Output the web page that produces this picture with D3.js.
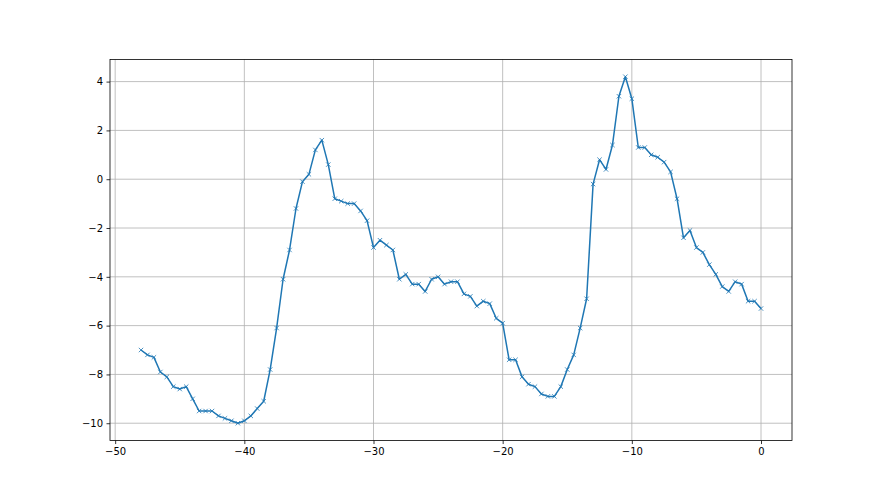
<!DOCTYPE html>
<html>
<head>
<meta charset="utf-8">
<script src="https://cdn.jsdelivr.net/npm/d3@7"></script>
<style>
  body { margin: 0; background: #fff; }
  .tick text { font-family: "DejaVu Sans", sans-serif; font-size: 10px; fill: #000; }
</style>
</head>
<body>
<div id="chart-area"></div>
<script>
const W = 880;
const H = 495;
const MARGIN = { LEFT: 110, RIGHT: 88, TOP: 59.4, BOTTOM: 54.45 };
const WIDTH = W - MARGIN.LEFT - MARGIN.RIGHT;
const HEIGHT = H - MARGIN.TOP - MARGIN.BOTTOM;

// data
const xValues = [
  -48, -47.5, -47, -46.5, -46, -45.5, -45, -44.5, -44, -43.5,
  -43, -42.5, -42, -41.5, -41, -40.5, -40, -39.5, -39, -38.5,
  -38, -37.5, -37, -36.5, -36, -35.5, -35, -34.5, -34, -33.5,
  -33, -32.5, -32, -31.5, -31, -30.5, -30, -29.5, -29, -28.5,
  -28, -27.5, -27, -26.5, -26, -25.5, -25, -24.5, -24, -23.5,
  -23, -22.5, -22, -21.5, -21, -20.5, -20, -19.5, -19, -18.5,
  -18, -17.5, -17, -16.5, -16, -15.5, -15, -14.5, -14, -13.5,
  -13, -12.5, -12, -11.5, -11, -10.5, -10, -9.5, -9, -8.5,
  -8, -7.5, -7, -6.5, -6, -5.5, -5, -4.5, -4, -3.5,
  -3, -2.5, -2, -1.5, -1, -0.5, 0
];
const yValues = [
  -7.0, -7.2, -7.3, -7.9, -8.1, -8.5, -8.6, -8.5, -9.0, -9.5,
  -9.5, -9.5, -9.7, -9.8, -9.9, -10.0, -9.9, -9.7, -9.4, -9.1,
  -7.8, -6.1, -4.1, -2.9, -1.2, -0.1, 0.2, 1.2, 1.6, 0.6,
  -0.8, -0.9, -1.0, -1.0, -1.3, -1.7, -2.8, -2.5, -2.7, -2.9,
  -4.1, -3.9, -4.3, -4.3, -4.6, -4.1, -4.0, -4.3, -4.2, -4.2,
  -4.7, -4.8, -5.2, -5.0, -5.1, -5.7, -5.9, -7.4, -7.4, -8.1,
  -8.4, -8.5, -8.8, -8.9, -8.9, -8.5, -7.8, -7.2, -6.1, -4.9,
  -0.2, 0.8, 0.4, 1.4, 3.4, 4.2, 3.3, 1.3, 1.3, 1.0,
  0.9, 0.7, 0.3, -0.8, -2.4, -2.1, -2.8, -3.0, -3.5, -3.9,
  -4.4, -4.6, -4.2, -4.3, -5.0, -5.0, -5.3
];
const xTicks = [-50, -40, -30, -20, -10, 0];
const yTicks = [-10, -8, -6, -4, -2, 0, 2, 4];

const data = xValues.map((x, i) => ({ x: x, y: yValues[i] }));

const svg = d3
  .select("#chart-area")
  .append("svg")
  .attr("width", W)
  .attr("height", H);

const g = svg
  .append("g")
  .attr("transform", `translate(${MARGIN.LEFT}, ${MARGIN.TOP})`);

// scales with matplotlib-like 5% margins
const xExt = d3.extent(xValues);
const yExt = d3.extent(yValues);
const xPad = (xExt[1] - xExt[0]) * 0.05;
const yPad = (yExt[1] - yExt[0]) * 0.05;
const x = d3.scaleLinear().domain([xExt[0] - xPad, xExt[1] + xPad]).range([0, WIDTH]);
const y = d3.scaleLinear().domain([yExt[0] - yPad, yExt[1] + yPad]).range([HEIGHT, 0]);

// grid
g.append("g")
  .selectAll("line")
  .data(xTicks)
  .join("line")
  .attr("x1", (d) => x(d))
  .attr("x2", (d) => x(d))
  .attr("y1", 0)
  .attr("y2", HEIGHT)
  .attr("stroke", "#b0b0b0")
  .attr("stroke-width", 0.8);
g.append("g")
  .selectAll("line")
  .data(yTicks)
  .join("line")
  .attr("x1", 0)
  .attr("x2", WIDTH)
  .attr("y1", (d) => y(d))
  .attr("y2", (d) => y(d))
  .attr("stroke", "#b0b0b0")
  .attr("stroke-width", 0.8);

// line
const line = d3
  .line()
  .x((d) => x(d.x))
  .y((d) => y(d.y));

g.append("path")
  .datum(data)
  .attr("fill", "none")
  .attr("stroke", "#1f77b4")
  .attr("stroke-width", 1.5)
  .attr("stroke-linejoin", "round")
  .attr("d", line);

// x markers
const m = 2.2;
g.append("g")
  .selectAll("path")
  .data(data)
  .join("path")
  .attr("transform", (d) => `translate(${x(d.x)}, ${y(d.y)})`)
  .attr("d", `M${-m},${-m}L${m},${m}M${-m},${m}L${m},${-m}`)
  .attr("stroke", "#1f77b4")
  .attr("stroke-width", 0.8)
  .attr("fill", "none");

// frame
g.append("rect")
  .attr("width", WIDTH)
  .attr("height", HEIGHT)
  .attr("fill", "none")
  .attr("stroke", "#000")
  .attr("stroke-width", 0.8);

// axes
const xAxis = g
  .append("g")
  .attr("transform", `translate(0, ${HEIGHT})`)
  .call(d3.axisBottom(x).tickValues(xTicks).tickSizeOuter(0).tickSize(3.5).tickPadding(3.5));
const yAxis = g
  .append("g")
  .call(d3.axisLeft(y).tickValues(yTicks).tickSizeOuter(0).tickSize(3.5).tickPadding(3.5));

[xAxis, yAxis].forEach((a) => {
  a.select(".domain").remove();
  a.selectAll(".tick line").attr("stroke", "#000").attr("stroke-width", 0.8);
});
</script>
</body>
</html>
